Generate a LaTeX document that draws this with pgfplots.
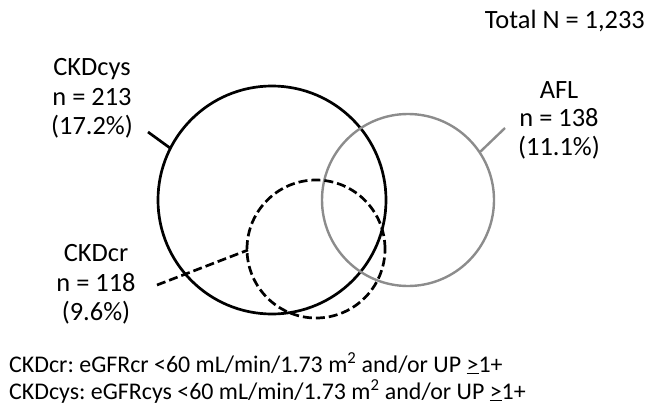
\documentclass[border=0pt]{standalone}
\usepackage{pgfplots}
\pgfplotsset{compat=1.18}
\usepackage{fontspec}
\setmainfont{Carlito}
\frenchspacing
\definecolor{aflgray}{RGB}{140,140,140}
\tikzset{
  lbl/.style={font=\fontsize{26.5}{30}\selectfont, inner sep=0pt, anchor=base},
  note/.style={font=\fontsize{24}{28}\selectfont, inner sep=0pt, anchor=base west},
}

\begin{document}
\begin{tikzpicture}
\begin{axis}[
    width=647bp, height=408bp, scale only axis,
    xmin=0, xmax=647, ymin=0, ymax=408,
    y dir=reverse,
    hide axis, clip=false,
  ]
  % circles: centre in pixel units, radius as mark size
  \addplot[only marks, mark=o, mark size=114bp,
    mark options={line width=2.7bp, black}] coordinates {(272,200)};
  \addplot[only marks, mark=o, mark size=86bp,
    mark options={line width=2.4bp, aflgray}] coordinates {(408,200)};
  \addplot[only marks, mark=o, mark size=69bp,
    mark options={line width=2.7bp, black, dash pattern=on 9bp off 4bp}] coordinates {(316,249)};

  % pointer lines
  \addplot[black, line width=2.7bp] coordinates {(148,132) (170,148)};
  \addplot[aflgray, line width=2.4bp] coordinates {(480,152) (505,128)};
  \addplot[black, line width=2.7bp, dash pattern=on 9bp off 4bp] coordinates {(157,285) (248,250)};

  % labels
  \node[lbl] at (axis cs:92,75) {CKDcys};
  \node[lbl] at (axis cs:92,105) {n = 213};
  \node[lbl] at (axis cs:92,134) {(17.2\%)};

  \node[lbl] at (axis cs:96,261) {CKDcr};
  \node[lbl] at (axis cs:96,291) {n = 118};
  \node[lbl] at (axis cs:96,320) {(9.6\%)};

  \node[lbl] at (axis cs:559,98) {AFL};
  \node[lbl] at (axis cs:559,126) {n = 138};
  \node[lbl] at (axis cs:559,155) {(11.1\%)};

  \node[lbl, anchor=base east] at (axis cs:645,29) {Total N = 1,233};

  \node[note] at (axis cs:9,372)
    {CKDcr: eGFRcr <60 mL/min/1.73 m\textsuperscript{2} and/or UP \underline{>}1+};
  \node[note] at (axis cs:9,399)
    {CKDcys: eGFRcys <60 mL/min/1.73 m\textsuperscript{2} and/or UP \underline{>}1+};
\end{axis}
\pgfresetboundingbox
\path[use as bounding box] (current axis.south west) rectangle (current axis.north east);
\end{tikzpicture}
\end{document}
